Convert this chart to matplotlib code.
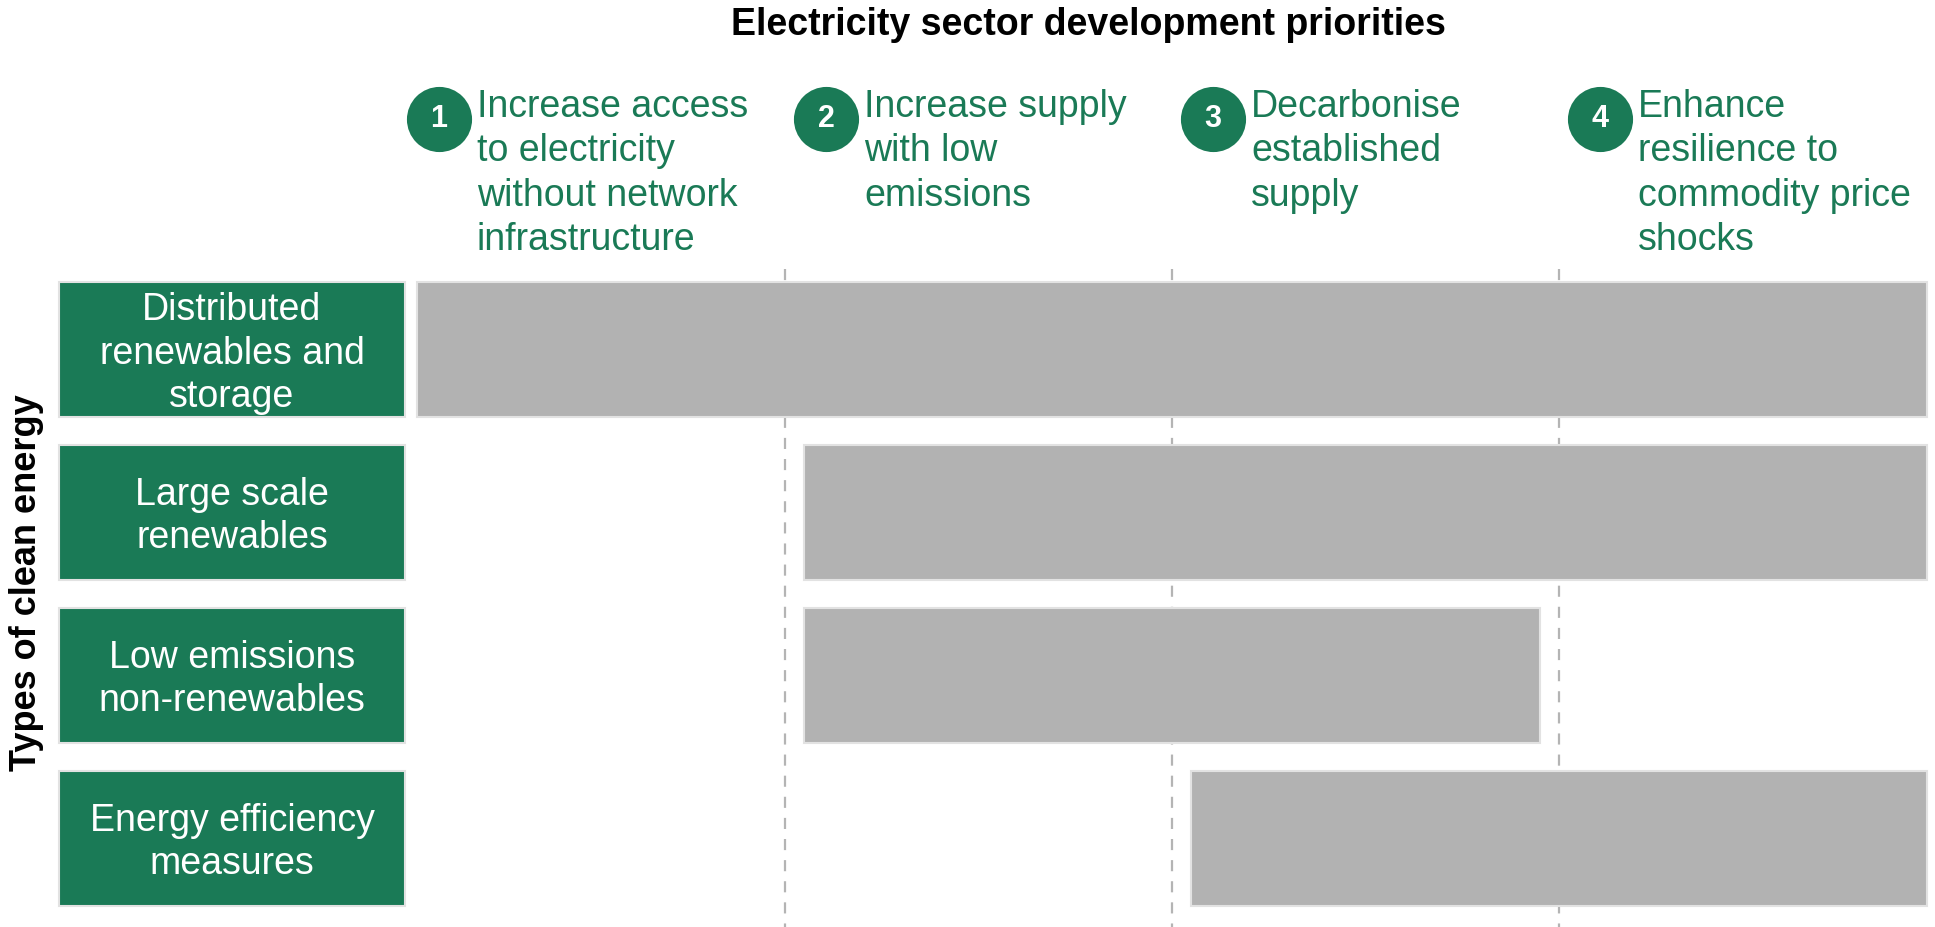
import matplotlib
matplotlib.use("Agg")
import matplotlib.pyplot as plt

plt.rcParams['font.family'] = ['Liberation Sans', 'DejaVu Sans']

GREEN = "#1a7a56"
BAR_GREY = "#b2b2b2"

# development priorities (columns)
priority_nums = ["1", "2", "3", "4"]
priority_labels = [
    "Increase access\nto electricity\nwithout network\ninfrastructure",
    "Increase supply\nwith low\nemissions",
    "Decarbonise\nestablished\nsupply",
    "Enhance\nresilience to\ncommodity price\nshocks",
]

# clean energy types (rows) and which priorities they cover
energy_types = [
    "Distributed\nrenewables and\nstorage",
    "Large scale\nrenewables",
    "Low emissions\nnon-renewables",
    "Energy efficiency\nmeasures",
]
span_start = [0, 1, 1, 2]
span_end = [4, 4, 3, 4]

fig = plt.figure(figsize=(19.35, 9.27), dpi=100)
ax = fig.add_axes([0, 0, 1, 1])
ax.set_xlim(-1.0284, 3.9716)
ax.set_ylim(3.543, -2.144)
ax.axis("off")

rows = list(range(len(energy_types)))
gap_l, gap_r = 0.05, 0.05
bar_h = 0.83

# dashed column separators
ax.vlines([1, 2, 3], -0.494, 3.6, colors="#b4b4b4", linestyles=(0, (5, 4.5)),
          linewidth=1.6, zorder=1)

# coverage bars
ax.barh(rows, [e - s - gap_l - gap_r for s, e in zip(span_start, span_end)],
        left=[s + gap_l for s in span_start], height=bar_h,
        color=BAR_GREY, edgecolor="#e2e2e2", linewidth=1.5, zorder=2)

# row label boxes
box_left, box_right = -0.876, 0.018
ax.barh(rows, box_right - box_left, left=box_left, height=bar_h,
        color=GREEN, edgecolor="#e2e2e2", linewidth=1.5, zorder=2)
for r, name in zip(rows, energy_types):
    ax.text((box_left + box_right) / 2, r + 0.025, name, ha="center", va="center",
            color="white", fontsize=27, linespacing=1.28, zorder=3)

# column headers
for i, (num, lab) in enumerate(zip(priority_nums, priority_labels)):
    ax.scatter(i + 0.106, -1.414, s=2200, color=GREEN, zorder=3, linewidths=0)
    ax.text(i + 0.106, -1.414, num, ha="center", va="center", color="white",
            fontsize=22, fontweight="bold", zorder=4)
    ax.text(i + 0.204, -1.598, lab, ha="left", va="top", color=GREEN,
            fontsize=27, linespacing=1.30, zorder=3)

fig.text(1088 / 1935, 1 - 25 / 927, "Electricity sector development priorities",
         ha="center", va="center", fontsize=27, fontweight="bold")
fig.text(27 / 1935, 1 - 583 / 927, "Types of clean energy", rotation=90,
         ha="center", va="center", fontsize=26, fontweight="bold")

fig.savefig("out.png", dpi=100)
